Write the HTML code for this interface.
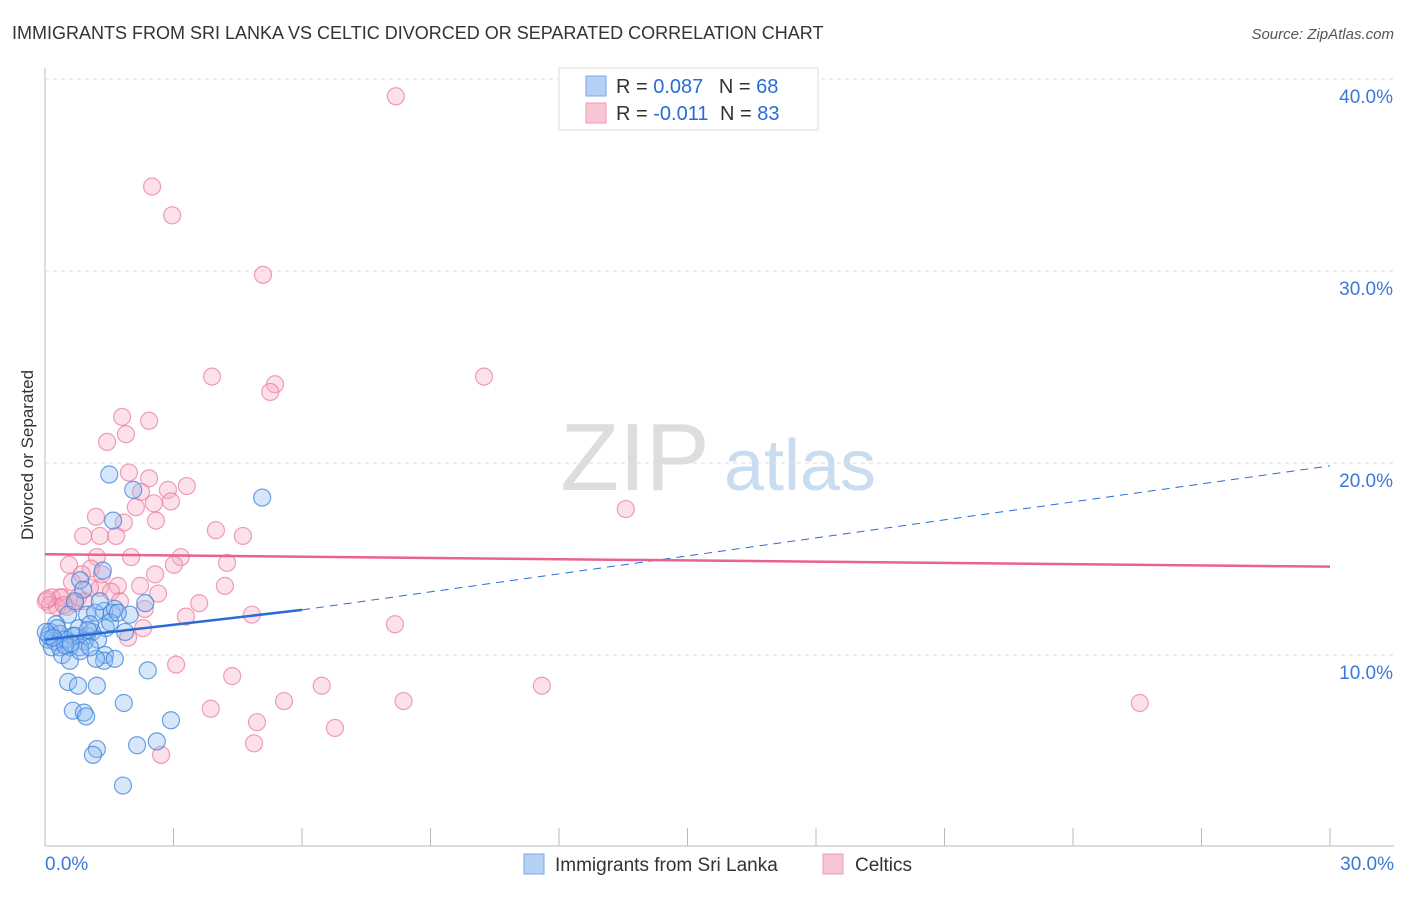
<!DOCTYPE html>
<html><head><meta charset="utf-8"><style>
body{margin:0;background:#fff;font-family:"Liberation Sans",sans-serif;}
svg text{font-family:"Liberation Sans",sans-serif;}
</style></head><body>
<svg id="c" width="1406" height="892" xmlns="http://www.w3.org/2000/svg">
<text x="12" y="39" font-size="18" fill="#333">IMMIGRANTS FROM SRI LANKA VS CELTIC DIVORCED OR SEPARATED CORRELATION CHART</text>
<text x="1394" y="39" font-size="15" font-style="italic" fill="#555" text-anchor="end">Source: ZipAtlas.com</text>
<text transform="translate(33,455) rotate(-90)" font-size="17" fill="#333" text-anchor="middle">Divorced or Separated</text>
<g><text x="635" y="490" font-size="96" font-family="Liberation Serif" fill="#ddd" text-anchor="middle">ZIP</text><text x="800" y="490" font-size="72" fill="#c9dcf0" text-anchor="middle">atlas</text></g>
<g id="grid"></g><g id="pts"></g><g id="trend"></g>
<g>
<rect x="559" y="68" width="259" height="62" fill="#fff" stroke="#ddd"/>
<rect x="586" y="76" width="20" height="20" fill="#b5d0f5" stroke="#7aa8e6"/>
<rect x="586" y="103" width="20" height="20" fill="#f8c5d4" stroke="#ec9ab3"/>
<text x="616" y="93" font-size="20" fill="#333">R = <tspan fill="#2a6cd6">0.087</tspan>  <tspan dx="10">N = </tspan><tspan fill="#2a6cd6">68</tspan></text>
<text x="616" y="120" font-size="20" fill="#333">R = <tspan fill="#2a6cd6">-0.011</tspan>  <tspan dx="6">N = </tspan><tspan fill="#2a6cd6">83</tspan></text>
</g>
<g>
<rect x="524" y="854" width="20" height="20" fill="#b5d0f5" stroke="#7aa8e6"/>
<text x="555" y="871" font-size="19" fill="#333">Immigrants from Sri Lanka</text>
<rect x="823" y="854" width="20" height="20" fill="#f8c5d4" stroke="#ec9ab3"/>
<text x="855" y="871" font-size="19" fill="#333">Celtics</text>
</g>
</svg>
<script>
const xTicks=[0,3,6,9,12,15,18,21,24,27,30];
const yTicks=[10,20,30,40];
const blueX=[1.5,2.06,5.07,1.59,1.35,0.82,0.89,2.34,1.38,1.56,0.98,1.17,0.54,0.26,0.79,1.42,1.87,0.12,0.35,0.65,0.98,1.1,0.07,0.23,0.47,0.7,0.93,0.16,0.35,0.58,0.82,1.24,1.4,0.4,0.58,0.82,1.38,1.19,1.63,2.4,0.54,0.77,1.21,1.84,0.65,0.91,0.96,2.94,2.61,2.15,1.21,1.12,1.82,0.09,0.28,1.05,1.63,1.52,1.98,1.28,0.7,0.47,1.05,0.02,0.19,1.7,1.0,0.6];
const blueY=[19.4,18.6,18.2,17.0,14.4,13.9,13.4,12.7,12.3,12.2,12.1,12.2,12.1,11.6,11.4,11.4,11.2,11.2,11.1,11.0,11.0,11.2,10.8,10.7,10.8,11.0,10.7,10.4,10.4,10.4,10.4,10.8,10.0,10.0,9.7,10.2,9.7,9.8,9.8,9.2,8.6,8.4,8.4,7.5,7.1,7.0,6.8,6.6,5.5,5.3,5.1,4.8,3.2,11.0,11.4,11.6,12.4,11.7,12.1,12.8,12.8,10.5,10.4,11.2,10.9,12.2,11.3,10.6];
const pinkX=[8.19,2.5,2.97,5.09,3.9,5.37,5.26,10.25,1.8,2.43,1.89,1.45,1.96,2.43,3.31,2.24,2.87,2.54,2.94,2.12,13.56,1.19,1.84,2.59,3.99,4.62,0.89,1.66,1.28,1.21,2.01,3.17,0.56,4.25,3.01,1.07,0.86,0.63,1.7,2.22,1.28,4.2,2.64,1.54,0.16,0.4,0.02,0.7,0.51,0.12,3.6,2.33,4.83,3.29,8.17,1.94,2.29,3.06,4.37,6.46,11.6,837e-2,5.58,25.56,3.87,4.95,6.77,4.88,2.71,0.35,0.28,1.05,0.77,0.44,1.33,1.75,2.57,0.05,0.93];
const pinkY=[39.1,34.4,32.9,29.8,24.5,24.1,23.7,24.5,22.4,22.2,21.5,21.1,19.5,19.2,18.8,18.5,18.6,17.9,18.0,17.7,17.6,17.2,16.9,17.0,16.5,16.2,16.2,16.2,16.2,15.1,15.1,15.1,14.7,14.8,14.7,14.5,14.2,13.8,13.6,13.6,13.5,13.6,13.2,13.3,13.0,13.0,12.8,12.7,12.5,12.6,12.7,12.4,12.1,12.0,11.6,10.9,11.4,9.5,8.9,8.4,8.4,7.6,7.6,7.5,7.2,6.5,6.2,5.4,4.8,13.0,12.5,13.5,13.0,12.6,14.2,12.8,14.2,12.9,12.8];
const blueTrend=[0,10.8,6,12.35,30,19.85];
const pinkTrend=[0,15.25,30,14.6];
const L=45,R=1330,B=847,K=19.2;
const sx=v=>L+v/30*(R-L), sy=v=>B-v*K;
const NS='http://www.w3.org/2000/svg';
function mk(t,a,p){const e=document.createElementNS(NS,t);for(const k in a)e.setAttribute(k,a[k]);p.appendChild(e);return e;}
const g=document.getElementById('grid');
mk('line',{x1:45,y1:68,x2:45,y2:846,stroke:'#bbb'},g);
mk('line',{x1:45,y1:846,x2:1394,y2:846,stroke:'#bbb'},g);
yTicks.forEach(v=>{
 const l=mk('line',{x1:45,y1:sy(v),x2:1394,y2:sy(v),stroke:'#ddd','stroke-dasharray':'4,4'},g);
 
 
 const t=mk('text',{x:1393,y:sy(v)+24,'font-size':19,fill:'#3b78d8','text-anchor':'end'},g);t.textContent=v.toFixed(1)+'%';
 
 
});
xTicks.forEach(v=>{
 const l=mk('line',{x1:sx(v),y1:828,x2:sx(v),y2:846,stroke:'#bbb'},g);
 
 
});
[[0,'start',45],[30,'end',1394]].forEach(([v,a,x])=>{
 const t=mk('text',{x:x,y:870,'font-size':19,fill:'#3b78d8','text-anchor':a},g);t.textContent=v.toFixed(1)+'%';
 
 
});
const p=document.getElementById('pts');
pinkX.forEach((x,i)=>{const c=mk('circle',{cx:sx(x),cy:sy(pinkY[i]),r:8.5,fill:'rgba(246,170,195,0.35)',stroke:'rgba(232,120,155,0.7)','stroke-width':1.2},p);
 
 });
blueX.forEach((x,i)=>{const c=mk('circle',{cx:sx(x),cy:sy(blueY[i]),r:8.5,fill:'rgba(140,185,240,0.35)',stroke:'rgba(60,130,220,0.75)','stroke-width':1.2},p);
 
 });
const tr=document.getElementById('trend');
const bs=(blueTrend[3]-blueTrend[1])/blueTrend[2];
const b1=mk('line',{x1:sx(0),y1:sy(blueTrend[1]),x2:sx(blueTrend[2]),y2:sy(blueTrend[3]),stroke:'#2a6cd6','stroke-width':2.5},tr);


const b2=mk('line',{x1:sx(blueTrend[2]),y1:sy(blueTrend[3]),x2:sx(blueTrend[4]),y2:sy(blueTrend[5]),stroke:'#2a6cd6','stroke-width':1,'stroke-dasharray':'8,6'},tr);


const p1=mk('line',{x1:sx(pinkTrend[0]),y1:sy(pinkTrend[1]),x2:sx(pinkTrend[2]),y2:sy(pinkTrend[3]),stroke:'#e8638f','stroke-width':2.5},tr);


</script>
</body></html>
